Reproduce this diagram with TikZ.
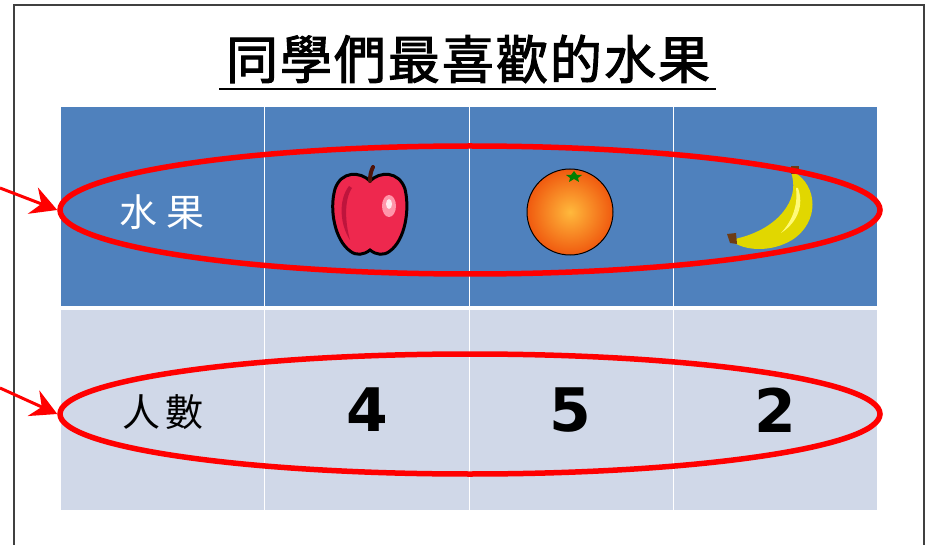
\documentclass[tikz,border=0pt]{standalone}
\usepackage{fontspec}
\newfontfamily\cjk{Noto Sans CJK TC}
\newfontfamily\cjkt[FakeBold=2]{Noto Sans CJK TC}
\newfontfamily\numfont{DejaVu Sans}
\usetikzlibrary{shapes.geometric,arrows.meta}
\definecolor{hdr}{RGB}{79,129,189}
\definecolor{rowc}{RGB}{208,216,232}
\definecolor{ringred}{RGB}{255,0,0}
\definecolor{applered}{RGB}{238,40,78}
\definecolor{appledark}{RGB}{190,20,60}
\definecolor{applelight}{RGB}{255,150,170}
\definecolor{stemc}{RGB}{80,20,10}
\definecolor{bananay}{RGB}{225,215,0}
\definecolor{bananal}{RGB}{255,250,120}
\definecolor{bananab}{RGB}{110,60,20}
\tikzset{
  hdrcell/.style={fill=hdr, draw=none},
  rowcell/.style={fill=rowc, draw=none},
  ring/.style={ellipse, draw=ringred, line width=5.5pt, inner sep=0pt, minimum width=820pt},
  pointer/.style={draw=ringred, line width=3pt, -{Stealth[length=26pt,width=28pt,inset=9pt]}},
  hdrtext/.style={font=\cjk\fontsize{38}{38}\selectfont, text=white},
  rowtext/.style={font=\cjk\fontsize{38}{38}\selectfont, text=black},
  numtext/.style={font=\numfont\bfseries\fontsize{60}{60}\selectfont, text=black}
}
\begin{document}
\begin{tikzpicture}[x=1pt,y=-1pt]
\useasboundingbox (0,0) rectangle (926,545);
% frame
\draw[black!75, line width=1.6pt] (14,5) rectangle (924,560);
% title
\node[font=\cjkt\fontsize{52}{52}\selectfont, inner sep=0pt] (title) at (468,59)
  {同\hspace{2pt}學\hspace{2pt}們\hspace{2pt}最\hspace{2pt}喜\hspace{2pt}歡\hspace{2pt}的\hspace{2pt}水\hspace{2pt}果};
\draw[line width=2pt] (219,89) -- (716,89);
% table cells
\fill[hdrcell] (61,107) rectangle (264,306);
\fill[hdrcell] (265,107) rectangle (469,306);
\fill[hdrcell] (470,107) rectangle (673,306);
\fill[hdrcell] (674,107) rectangle (877,306);
\fill[rowcell] (61,310) rectangle (264,510);
\fill[rowcell] (265,310) rectangle (469,510);
\fill[rowcell] (470,310) rectangle (673,510);
\fill[rowcell] (674,310) rectangle (877,510);
% cell texts
\node[hdrtext] (h1) at (162,212) {水\hspace{10pt}果};
\node[rowtext] (r1) at (163,412) {人\hspace{6pt}數};
\node[numtext] (n4) at (367,410) {4};
\node[numtext] (n5) at (570,410) {5};
\node[numtext] (n2) at (775,410) {2};
% apple
\begin{scope}
\path[fill=applered, draw=black, line width=3pt]
  (370,181) .. controls (360,171) and (341,171) .. (335,189)
  .. controls (329,210) and (335,240) .. (350,251)
  .. controls (356,256) and (364,255) .. (370,250)
  .. controls (376,255) and (384,256) .. (390,251)
  .. controls (405,240) and (410,210) .. (405,189)
  .. controls (399,171) and (380,171) .. (370,181) -- cycle;
\fill[appledark] (349,186) .. controls (338,200) and (340,225) .. (350,240)
  .. controls (345,222) and (344,200) .. (352,188) -- cycle;
\fill[applelight] (389,206) ellipse (7pt and 11pt);
\fill[white!80!applelight] (389,204) ellipse (3pt and 5pt);
\draw[stemc, line width=4pt, line cap=round] (370,181) .. controls (370,175) and (371,171) .. (373,167);
\end{scope}
% orange
\shade[inner color={rgb,255:red,255;green,185;blue,60}, outer color={rgb,255:red,240;green,90;blue,15}] (570,212) circle (43pt);
\draw[black, line width=1pt] (570,212) circle (43pt);
\fill[green!50!black] (574,171) -- (577,175) -- (582,175) -- (578,178) -- (579,182) -- (574,179) -- (569,182) -- (570,178) -- (566,175) -- (571,175) -- cycle;
% banana
\path[fill=bananay]
  (794,172) .. controls (818,186) and (820,222) .. (792,240)
  .. controls (772,252) and (745,252) .. (730,240)
  .. controls (752,236) and (774,226) .. (786,208)
  .. controls (794,196) and (795,184) .. (791,172) -- cycle;
\fill[bananal] (798,188) .. controls (804,205) and (798,222) .. (781,233)
  .. controls (793,220) and (798,205) .. (796,188) -- cycle;
\fill[bananab] (791,166) rectangle (799,174);
\fill[bananab] (727,234) -- (736,233) -- (737,244) -- (730,243) -- cycle;
% rings
\node[ring, minimum height=128pt] (e1) at (470,210) {};
\node[ring, minimum height=120pt] (e2) at (470,414) {};
% arrows
\coordinate (a1) at (0,188);
\coordinate (a2) at (0,388);
\draw[pointer] (a1) -- (e1.west);
\draw[pointer] (a2) -- (e2.west);
\end{tikzpicture}
\end{document}
